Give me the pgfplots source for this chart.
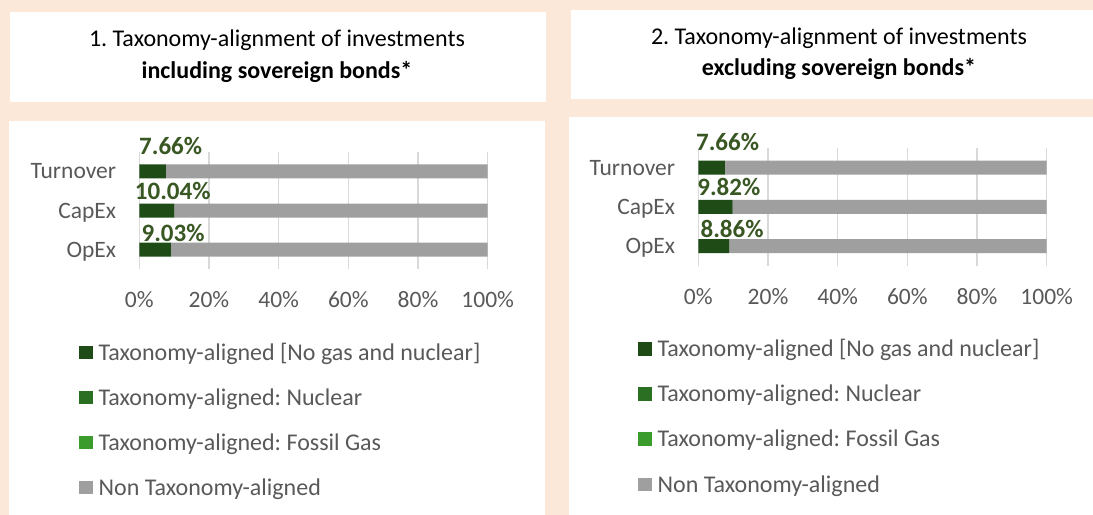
\documentclass[border=0pt]{standalone}
\usepackage{pgfplots}
\pgfplotsset{compat=1.18}
\usepackage{fontspec}
\setmainfont{Carlito}
\frenchspacing
\definecolor{peach}{HTML}{FBE8D8}
\definecolor{alg}{HTML}{1E4B16}
\definecolor{nuc}{HTML}{2B7022}
\definecolor{gas}{HTML}{3B9B2C}
\definecolor{non}{HTML}{9F9F9F}
\definecolor{lbl}{HTML}{385723}
\definecolor{txt}{HTML}{595959}
\definecolor{grd}{HTML}{D9D9D9}

\pgfplotsset{
 panel/.style={
  xbar stacked, scale only axis, width=348.4bp, height=117.6bp,
  xmin=0, xmax=100, ymin=0.5, ymax=3.5,
  bar width=14bp,
  axis line style={draw=none}, major tick length=0pt,
  xmajorgrids, grid style={grd, line width=1.2bp},
  xtick={0,20,40,60,80,100}, xticklabels={0\%,20\%,40\%,60\%,80\%,100\%},
  ytick={1,2,3}, yticklabels={OpEx,CapEx,Turnover},
  tick label style={font=\fontsize{23.5bp}{28bp}\selectfont, text=txt, inner sep=0pt},
  yticklabel style={anchor=base east, xshift=-23bp, yshift=-7.5bp},
  clip=false,
  legend cell align=left,
  legend style={draw=none, fill=none, inner sep=0pt, outer sep=0pt, anchor=north west,
    row sep=29.6bp, font=\fontsize{24bp}{28bp}\selectfont, text=txt,
    nodes={inner sep=0pt, text height=15.5bp, text depth=0pt, anchor=west},
    /tikz/every odd column/.append style={column sep=5.7bp}},
  legend image code/.code={\fill[##1] (0bp,-6.8bp) rectangle (13.6bp,6.8bp);},
 },
}
\tikzset{dlab/.style={font=\bfseries\fontsize{25bp}{30bp}\selectfont, text=lbl, anchor=base, yshift=-8bp, inner sep=0pt}}

\begin{document}
\begin{tikzpicture}
\fill[peach] (0bp,0bp) rectangle (1093bp,515bp);
\fill[white] (10bp,413.3bp) rectangle (546bp,503bp);
\fill[white] (9.3bp,0bp) rectangle (545bp,394bp);
\fill[white] (571bp,415.7bp) rectangle (1093bp,505bp);
\fill[white] (568.5bp,0bp) rectangle (1093bp,397.5bp);

\node[anchor=base, inner sep=0pt, font=\fontsize{24bp}{28bp}\selectfont] at (277bp,468bp) {1. Taxonomy-alignment of investments};
\node[anchor=base, inner sep=0pt, font=\bfseries\fontsize{24bp}{28bp}\selectfont] at (277bp,436.6bp) {including sovereign bonds*};
\node[anchor=base, inner sep=0pt, font=\fontsize{24bp}{28bp}\selectfont] at (839bp,470.3bp) {2. Taxonomy-alignment of investments};
\node[anchor=base, inner sep=0pt, font=\bfseries\fontsize{24bp}{28bp}\selectfont] at (839bp,439.3bp) {excluding sovereign bonds*};

\begin{axis}[panel, at={(139.3bp,245.7bp)}, anchor=south west,
  xticklabel style={anchor=base, yshift=-38bp},
  legend style={at={(-0.1722,-0.6399)}}]
\addplot[fill=alg, draw=none] coordinates {(7.66,3) (10.04,2) (9.03,1)};
\addplot[fill=nuc, draw=none] coordinates {(0,3) (0,2) (0,1)};
\addplot[fill=gas, draw=none] coordinates {(0,3) (0,2) (0,1)};
\addplot[fill=non, draw=none] coordinates {(92.34,3) (89.96,2) (90.97,1)};
\legend{Taxonomy-aligned [No gas and nuclear], Taxonomy-aligned: Nuclear, Taxonomy-aligned: Fossil Gas, Non Taxonomy-aligned}
\node[dlab] at (axis cs:9.0,3.628) {7.66\%};
\node[dlab] at (axis cs:9.6,2.497) {10.04\%};
\node[dlab] at (axis cs:9.7,1.418) {9.03\%};
\end{axis}

\begin{axis}[panel, at={(698.3bp,249.4bp)}, anchor=south west,
  xticklabel style={anchor=base, yshift=-39bp},
  legend style={at={(-0.1722,-0.6433)}}]
\addplot[fill=alg, draw=none] coordinates {(7.66,3) (9.82,2) (8.86,1)};
\addplot[fill=nuc, draw=none] coordinates {(0,3) (0,2) (0,1)};
\addplot[fill=gas, draw=none] coordinates {(0,3) (0,2) (0,1)};
\addplot[fill=non, draw=none] coordinates {(92.34,3) (90.18,2) (91.14,1)};
\legend{Taxonomy-aligned [No gas and nuclear], Taxonomy-aligned: Nuclear, Taxonomy-aligned: Fossil Gas, Non Taxonomy-aligned}
\node[dlab] at (axis cs:8.4,3.635) {7.66\%};
\node[dlab] at (axis cs:8.75,2.497) {9.82\%};
\node[dlab] at (axis cs:9.7,1.426) {8.86\%};
\end{axis}
\end{tikzpicture}
\end{document}
